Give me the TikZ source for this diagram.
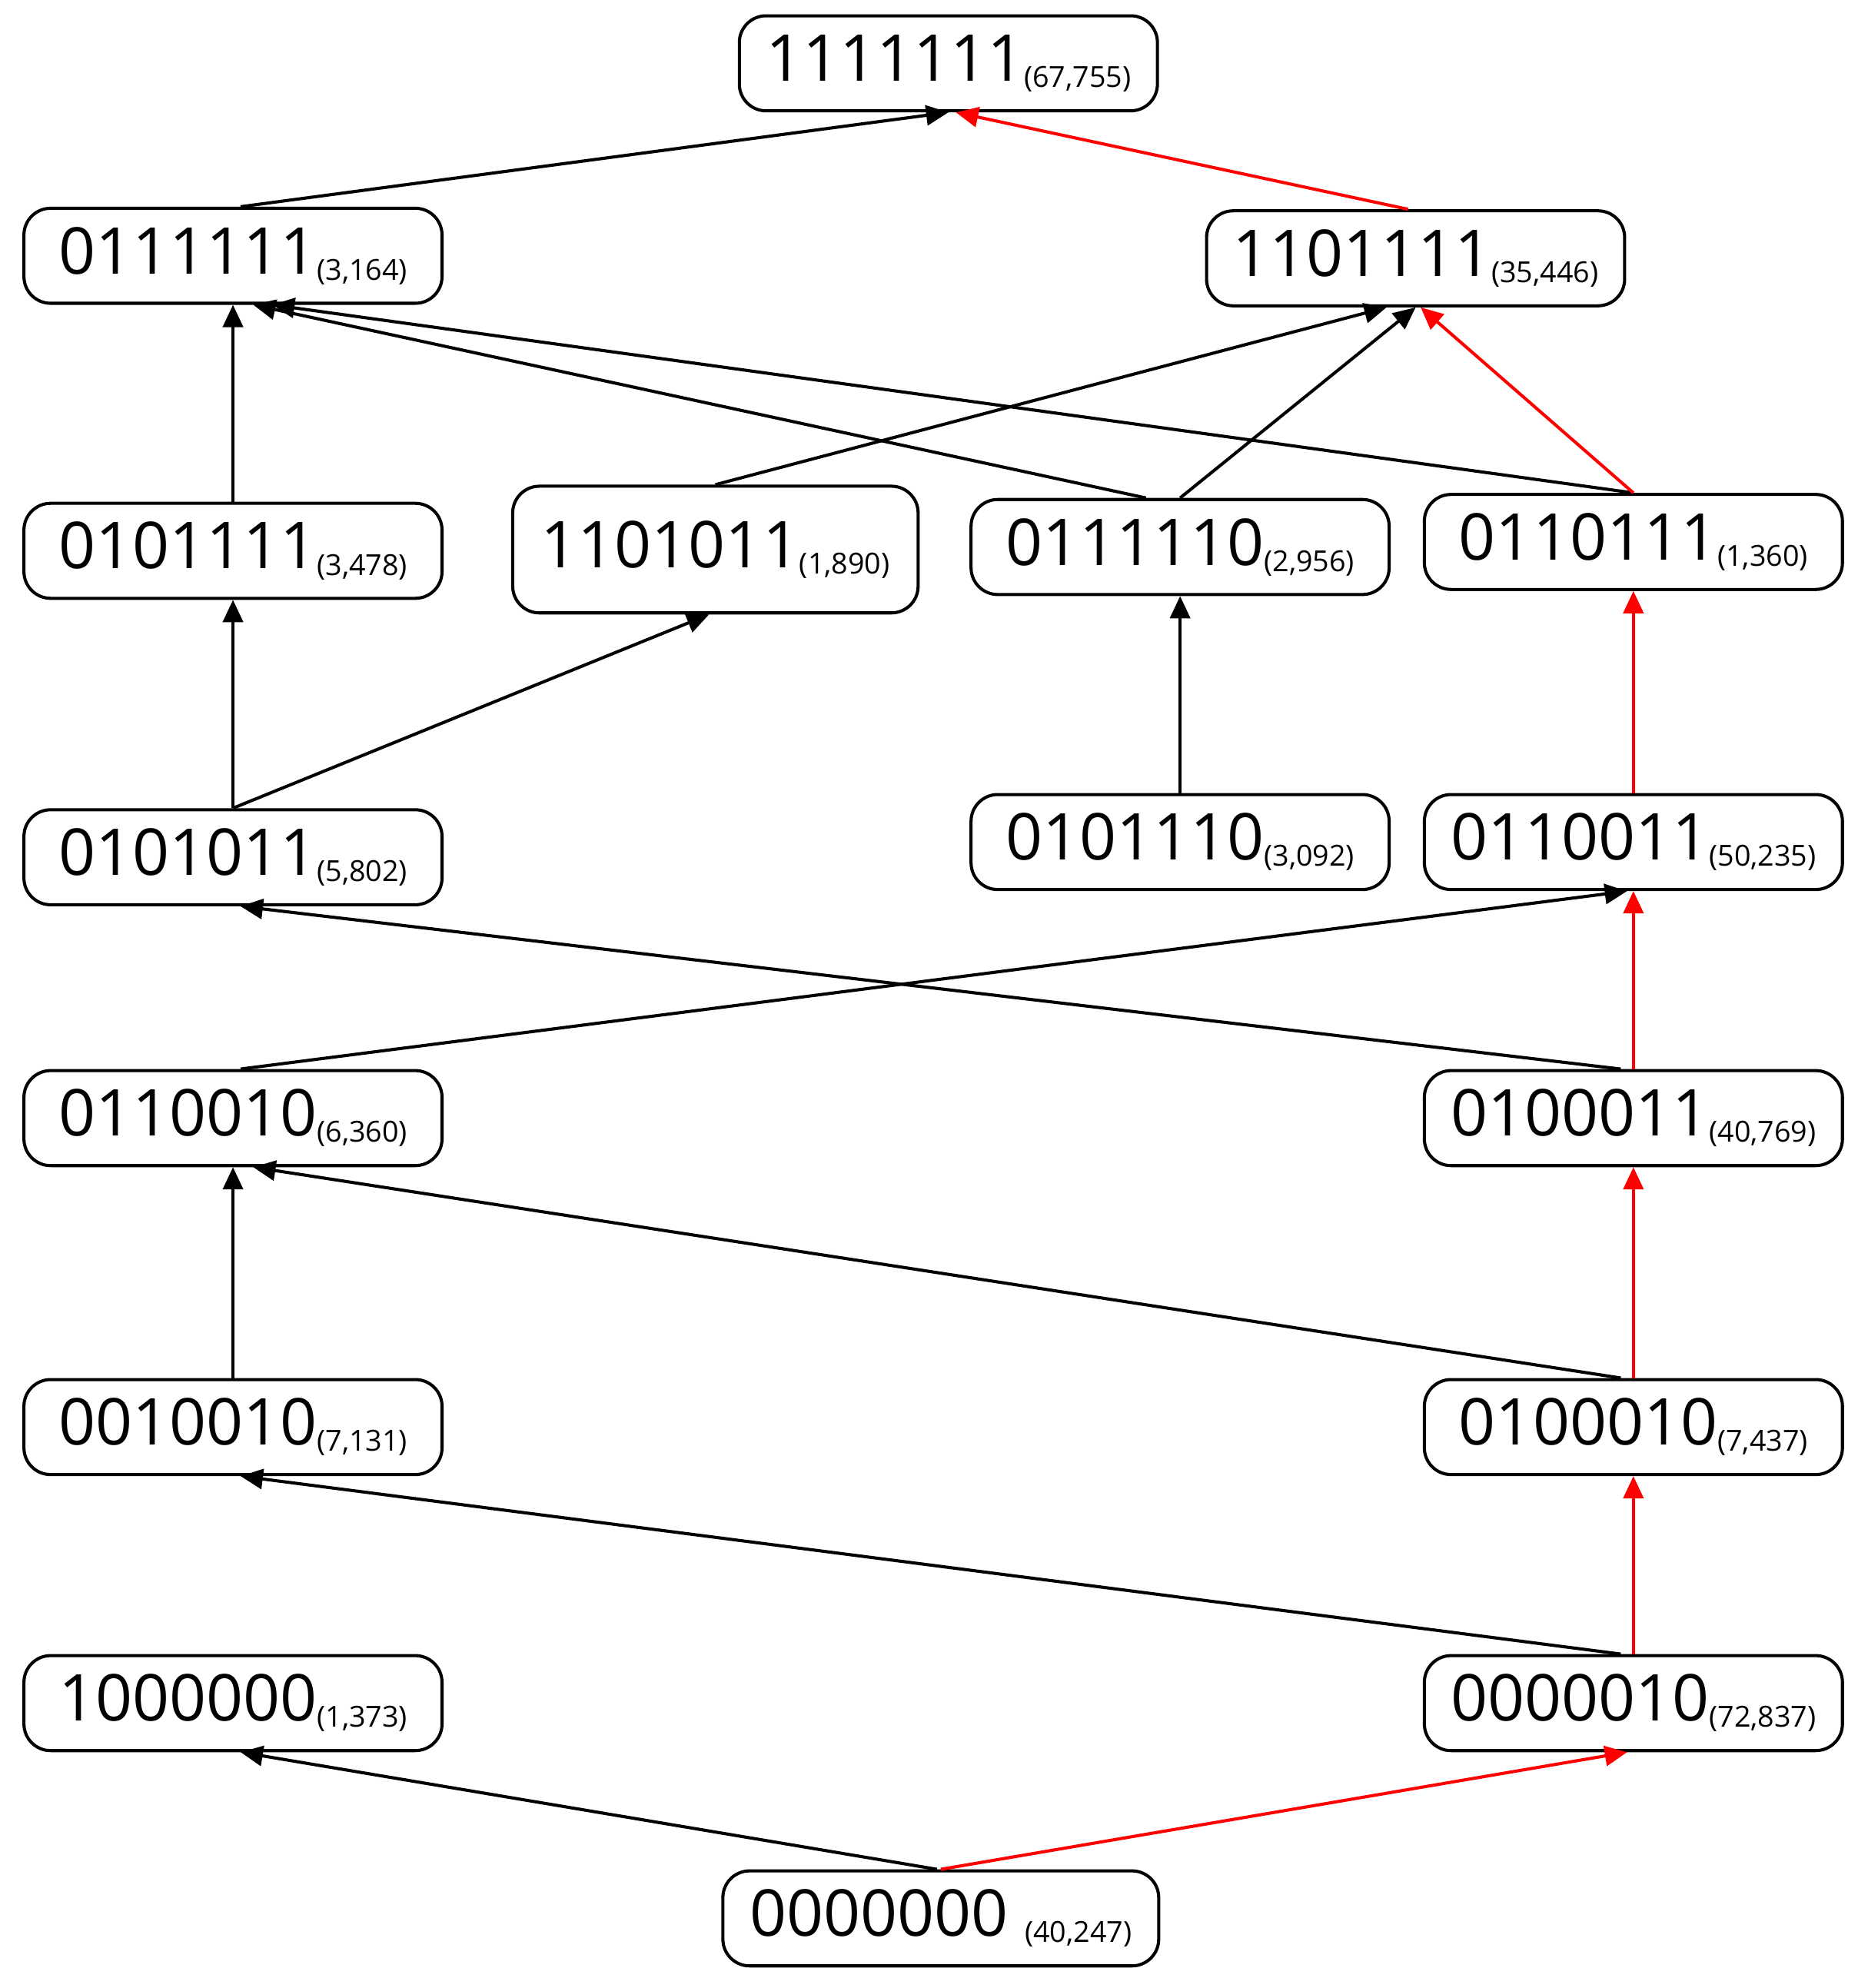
\documentclass[tikz,border=0pt]{standalone}
\usepackage{fontspec}
\setmainfont{Open Sans}
\usetikzlibrary{arrows.meta}
\newcommand{\lbl}[2]{{\fontsize{14.5}{16}\selectfont #1}{\fontsize{6.5}{8}\selectfont\raisebox{-0.4ex}{(#2)}}}
\tikzset{
  bx/.style={draw, rounded corners=6pt, line width=0.7pt, minimum width=3.3cm, minimum height=0.75cm, inner sep=0pt},
  ed/.style={line width=0.7pt, -{Triangle[length=5pt,width=4.5pt]}},
  rd/.style={ed, red},
}
\begin{document}
\begin{tikzpicture}[x=0.01cm,y=-0.01cm]
\useasboundingbox (0,0) rectangle (1475,1570);
\node[bx] (a) at (749,50) {\lbl{1111111}{67,755}};
\node[bx] (b) at (184,202) {\lbl{0111111}{3,164}};
\node[bx] (c) at (1118,204) {\lbl{1101111}{35,446}};
\node[bx] (d) at (184,435) {\lbl{0101111}{3,478}};
\node[bx, minimum width=3.2cm, minimum height=1cm] (e) at (565,434) {\lbl{1101011}{1,890}};
\node[bx] (f) at (932,432) {\lbl{0111110}{2,956}};
\node[bx] (g) at (1290,428) {\lbl{0110111}{1,360}};
\node[bx] (h) at (184,677) {\lbl{0101011}{5,802}};
\node[bx] (i) at (932,665) {\lbl{0101110}{3,092}};
\node[bx] (j) at (1290,665) {\lbl{0110011}{50,235}};
\node[bx] (k) at (184,883) {\lbl{0110010}{6,360}};
\node[bx] (l) at (1290,883) {\lbl{0100011}{40,769}};
\node[bx] (m) at (184,1127) {\lbl{0010010}{7,131}};
\node[bx] (n) at (1290,1127) {\lbl{0100010}{7,437}};
\node[bx] (o) at (184,1345) {\lbl{1000000}{1,373}};
\node[bx] (p) at (1290,1345) {\lbl{0000010}{72,837}};
\node[bx, minimum width=3.44cm] (q) at (743,1515) {\lbl{0000000\ }{40,247}};

\draw[ed] ([xshift=0.06cm]b.north) -- (a.south);
\draw[rd] ([xshift=-0.06cm]c.north) -- ([xshift=0.06cm]a.south);
\draw[ed] (d.north) -- (b.south);
\draw[ed] (e.north) -- ([xshift=-0.23cm]c.south);
\draw[ed] ([xshift=-0.27cm]f.north) -- ([xshift=0.16cm]b.south);
\draw[ed] (f.north) -- (c.south);
\draw[ed] (g.north) -- ([xshift=0.31cm]b.south);
\draw[rd] (g.north) -- ([xshift=0.04cm]c.south);
\draw[ed] (h.north) -- (d.south);
\draw[ed] (h.north) -- ([xshift=-0.05cm]e.south);
\draw[ed] (i.north) -- (f.south);
\draw[rd] (j.north) -- (g.south);
\draw[ed] ([xshift=0.06cm]k.north) -- ([xshift=-0.05cm]j.south);
\draw[rd] (l.north) -- (j.south);
\draw[ed] ([xshift=-0.1cm]l.north) -- ([xshift=0.06cm]h.south);
\draw[rd] (n.north) -- (l.south);
\draw[ed] ([xshift=-0.1cm]n.north) -- ([xshift=0.16cm]k.south);
\draw[ed] (m.north) -- (k.south);
\draw[rd] (p.north) -- (n.south);
\draw[ed] ([xshift=-0.1cm]p.north) -- ([xshift=0.06cm]m.south);
\draw[ed] ([xshift=-0.03cm]q.north) -- ([xshift=0.06cm]o.south);
\draw[rd] (q.north) -- ([xshift=-0.05cm]p.south);
\end{tikzpicture}
\end{document}
